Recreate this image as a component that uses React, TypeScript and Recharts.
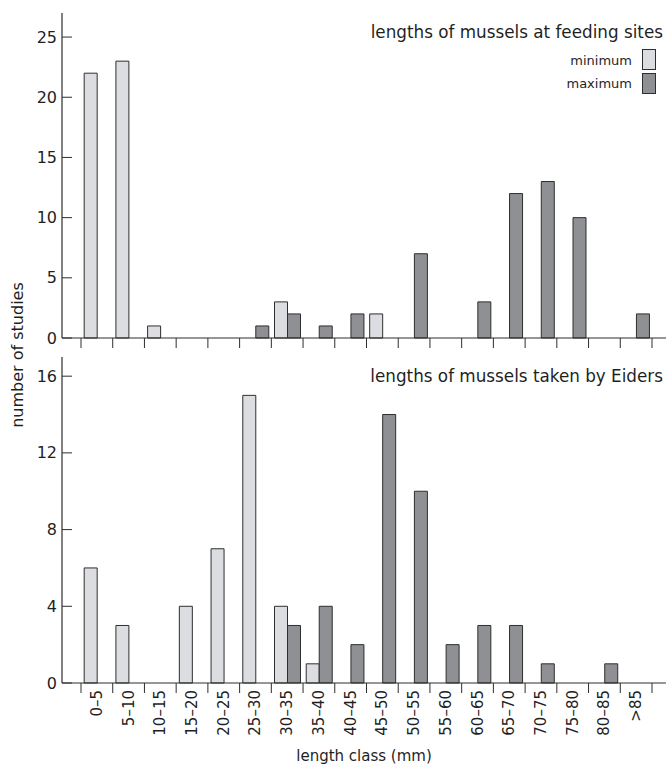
import React from "react";
import { BarChart, Bar, XAxis, YAxis } from "recharts";

// length classes (mm)
const classes = [
  "0–5", "5–10", "10–15", "15–20", "20–25", "25–30", "30–35", "35–40", "40–45",
  "45–50", "50–55", "55–60", "60–65", "65–70", "70–75", "75–80", "80–85", ">85",
];

// number of studies, mussels at feeding sites
const feedingMin = [22, 23, 1, 0, 0, 0, 3, 0, 0, 2, 0, 0, 0, 0, 0, 0, 0, 0];
const feedingMax = [0, 0, 0, 0, 0, 1, 2, 1, 2, 0, 7, 0, 3, 12, 13, 10, 0, 2];

// number of studies, mussels taken by Eiders
const eidersMin = [6, 3, 0, 4, 7, 15, 4, 1, 0, 0, 0, 0, 0, 0, 0, 0, 0, 0];
const eidersMax = [0, 0, 0, 0, 0, 0, 3, 4, 2, 14, 10, 2, 3, 3, 1, 0, 1, 0];

const feedingTicks = [0, 5, 10, 15, 20, 25];
const eidersTicks = [0, 4, 8, 12, 16];

const feedingData = classes.map((c, i) => ({ cls: c, min: feedingMin[i], max: feedingMax[i] }));
const eidersData = classes.map((c, i) => ({ cls: c, min: eidersMin[i], max: eidersMax[i] }));

const FONT = "'DejaVu Sans', sans-serif";
const TEXT = "#1f1f1f";
const LINE = "#2e2e2e";
const LIGHT = "#dcdde0";
const DARK = "#8f9094";

const W = 667;
const Y_W = 62;
const PAD_L = 19;
const PAD_R = 14;
const PLOT_W = W - 1 - Y_W;
const BAND = (PLOT_W - PAD_L - PAD_R) / classes.length;

const YTick = (props: any) => {
  const { x, y, payload } = props;
  return (
    <g>
      <line x1={x} x2={x + 10} y1={y} y2={y} stroke={LINE} strokeWidth={1} />
      <text
        x={x - 5}
        y={y}
        textAnchor="end"
        dominantBaseline="central"
        fontFamily={FONT}
        fontSize={16}
        fill={TEXT}
      >
        {payload.value}
      </text>
    </g>
  );
};

const XTick = (props: any) => {
  const { x, y, payload, index, showLabel } = props;
  const left = x - BAND / 2;
  const right = x + BAND / 2;
  return (
    <g>
      <line x1={left} x2={left} y1={y} y2={y + 10} stroke={LINE} strokeWidth={1} />
      {index === classes.length - 1 && (
        <line x1={right} x2={right} y1={y} y2={y + 10} stroke={LINE} strokeWidth={1} />
      )}
      {showLabel && (
        <text
          x={x}
          y={y + 7}
          transform={`rotate(-90 ${x} ${y + 7})`}
          textAnchor="end"
          dominantBaseline="central"
          fontFamily={FONT}
          fontSize={15}
          fill={TEXT}
        >
          {payload.value}
        </text>
      )}
    </g>
  );
};

type PanelProps = {
  data: { cls: string; min: number; max: number }[];
  height: number;
  top: number;
  marginTop: number;
  xHeight: number;
  yMax: number;
  ticks: number[];
  showLabels: boolean;
};

function Panel({ data, height, top, marginTop, xHeight, yMax, ticks, showLabels }: PanelProps) {
  return (
    <div style={{ position: "absolute", left: 0, top }}>
      <BarChart
        width={W}
        height={height}
        data={data}
        margin={{ top: marginTop, right: 1, bottom: 0, left: 0 }}
        barCategoryGap="10%"
        barGap={0}
      >
        <XAxis
          dataKey="cls"
          interval={0}
          height={xHeight}
          padding={{ left: PAD_L, right: PAD_R }}
          tickSize={0}
          tickMargin={0}
          tickLine={false}
          axisLine={{ stroke: LINE, strokeWidth: 1.2 }}
          tick={(p: any) => <XTick {...p} showLabel={showLabels} />}
        />
        <XAxis
          xAxisId="top"
          dataKey="cls"
          orientation="top"
          height={0}
          tick={false}
          tickLine={false}
          axisLine={{ stroke: LINE, strokeWidth: 1.2 }}
        />
        <YAxis
          width={Y_W}
          domain={[0, yMax]}
          ticks={ticks}
          tickSize={0}
          tickMargin={0}
          tickLine={false}
          axisLine={{ stroke: LINE, strokeWidth: 1.2 }}
          tick={<YTick />}
        />
        <YAxis
          yAxisId="right"
          orientation="right"
          width={0}
          tick={false}
          tickLine={false}
          axisLine={{ stroke: LINE, strokeWidth: 1.2 }}
        />
        <Bar dataKey="min" fill={LIGHT} stroke={LINE} strokeWidth={1} isAnimationActive={false} />
        <Bar dataKey="max" fill={DARK} stroke={LINE} strokeWidth={1} isAnimationActive={false} />
      </BarChart>
    </div>
  );
}

const textStyle: React.CSSProperties = {
  position: "absolute",
  fontFamily: FONT,
  color: TEXT,
  whiteSpace: "nowrap",
};

export default function App() {
  return (
    <div style={{ position: "absolute", left: 0, top: 0, width: W, height: 768, background: "#fff" }}>
      <Panel
        data={feedingData}
        height={357}
        top={0}
        marginTop={13}
        xHeight={19}
        yMax={27}
        ticks={feedingTicks}
        showLabels={false}
      />
      <Panel
        data={eidersData}
        height={428}
        top={340}
        marginTop={17}
        xHeight={85}
        yMax={17}
        ticks={eidersTicks}
        showLabels
      />

      <div style={{ ...textStyle, right: 4, top: 22, fontSize: 16.8, lineHeight: "20px" }}>
        lengths of mussels at feeding sites
      </div>
      <div style={{ ...textStyle, right: 35, top: 53, fontSize: 13, lineHeight: "16px" }}>minimum</div>
      <div
        style={{
          position: "absolute",
          left: 642,
          top: 49,
          width: 12,
          height: 19,
          background: LIGHT,
          border: `1px solid ${LINE}`,
        }}
      />
      <div style={{ ...textStyle, right: 35, top: 76, fontSize: 13, lineHeight: "16px" }}>maximum</div>
      <div
        style={{
          position: "absolute",
          left: 642,
          top: 73,
          width: 12,
          height: 19,
          background: DARK,
          border: `1px solid ${LINE}`,
        }}
      />

      <div style={{ ...textStyle, right: 4, top: 366, fontSize: 16.8, lineHeight: "20px" }}>
        lengths of mussels taken by Eiders
      </div>

      <div
        style={{
          ...textStyle,
          left: 18,
          top: 355,
          fontSize: 16,
          lineHeight: "18px",
          transform: "translate(-50%, -50%) rotate(-90deg)",
        }}
      >
        number of studies
      </div>
      <div
        style={{
          ...textStyle,
          left: 364,
          top: 747,
          fontSize: 15,
          lineHeight: "18px",
          transform: "translateX(-50%)",
        }}
      >
        length class (mm)
      </div>
    </div>
  );
}
